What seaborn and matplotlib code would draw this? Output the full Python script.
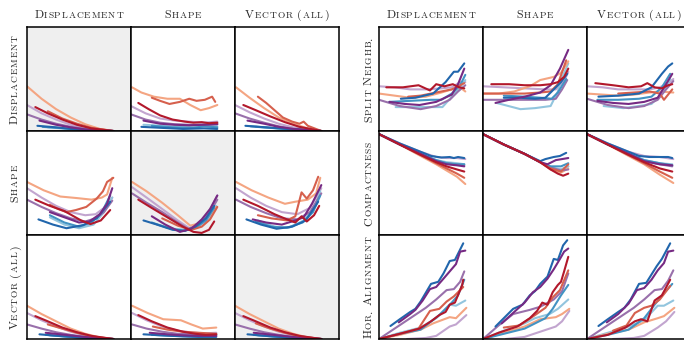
import numpy as np
import pandas as pd
import matplotlib
matplotlib.use("Agg")
import matplotlib.pyplot as plt
import seaborn as sns
from matplotlib import font_manager
from matplotlib.ft2font import FT2Font

# ---------------- labels ----------------
col_labels = ["Displacement", "Shape", "Vector (all)"]
left_row_labels = ["Displacement", "Shape", "Vector (all)"]
right_row_labels = ["Split Neighb.", "Compactness", "Hor. Alignment"]

# series order (draw order) and colours
series_order = ["lp", "lb", "sa", "mp", "mb", "rd", "db", "dp", "dr"]
series_colors = {
    "dr": "#b2182b", "rd": "#d6604d", "sa": "#f4a582",
    "lb": "#92c5de", "mb": "#4393c3", "db": "#2166ac",
    "dp": "#762a83", "mp": "#9970ab", "lp": "#c2a5cf",
}

# ---------------- data (x, y) per panel, in panel units ----------------
disp_disp = {
    "sa": [(0, .43), (.14, .31), (.28, .21), (.42, .13), (.56, .065), (.70, .02), (.83, 0)],
    "lp": [(0, .25), (.14, .17), (.28, .11), (.42, .06), (.56, .03), (.70, .01), (.83, 0)],
    "dr": [(.08, .23), (.2, .17), (.34, .11), (.48, .06), (.62, .025), (.83, 0)],
    "rd": [(.2, .19), (.34, .12), (.48, .07), (.62, .03), (.83, 0)],
    "mp": [(0, .16), (.14, .11), (.28, .07), (.42, .04), (.56, .02), (.83, 0)],
    "dp": [(.12, .10), (.28, .06), (.42, .035), (.56, .015), (.83, 0)],
    "db": [(.1, .05), (.28, .035), (.42, .02), (.56, .01), (.83, 0)],
    "mb": [(.15, .04), (.3, .03), (.5, .015), (.83, 0)],
    "lb": [(.2, .035), (.4, .02), (.83, 0)],
}
disp_shape = {
    "sa": [(.01, .42), (.1, .37), (.22, .33), (.35, .31), (.47, .31), (.57, .25), (.67, .20), (.75, .22), (.83, .25)],
    "rd": [(.2, .32), (.28, .29), (.37, .26), (.47, .28), (.56, .31), (.63, .29), (.71, .30), (.78, .33), (.81, .28)],
    "dr": [(.07, .27), (.17, .21), (.28, .15), (.4, .11), (.52, .09), (.6, .08), (.68, .085), (.75, .075), (.83, .08)],
    "lp": [(0, .24), (.14, .17), (.28, .12), (.42, .10), (.56, .09), (.7, .08), (.83, .09)],
    "mp": [(0, .16), (.14, .11), (.28, .08), (.42, .065), (.56, .06), (.7, .06), (.83, .07)],
    "dp": [(.12, .10), (.28, .07), (.42, .06), (.56, .055), (.7, .06), (.83, .065)],
    "lb": [(.12, .06), (.3, .05), (.5, .04), (.65, .05), (.83, .045)],
    "mb": [(.2, .05), (.4, .035), (.6, .03), (.7, .045), (.83, .035)],
    "db": [(.1, .04), (.3, .03), (.5, .02), (.7, .025), (.83, .02)],
}
disp_vec = {
    "sa": [(.01, .42), (.14, .32), (.28, .22), (.42, .13), (.56, .07), (.70, .025), (.83, 0)],
    "rd": [(.22, .33), (.3, .27), (.38, .20), (.46, .13), (.55, .09), (.62, .07), (.66, .09), (.70, .05), (.83, 0)],
    "dr": [(.08, .25), (.2, .20), (.34, .14), (.48, .085), (.62, .04), (.83, 0)],
    "lp": [(0, .25), (.14, .18), (.28, .12), (.42, .07), (.56, .035), (.83, 0)],
    "mp": [(0, .17), (.14, .12), (.28, .08), (.42, .045), (.56, .02), (.83, 0)],
    "dp": [(.12, .10), (.28, .07), (.42, .04), (.56, .02), (.83, 0)],
    "db": [(.1, .05), (.3, .035), (.5, .02), (.83, 0)],
    "mb": [(.15, .045), (.35, .03), (.55, .015), (.83, 0)],
    "lb": [(.2, .04), (.4, .025), (.83, 0)],
}
shape_disp = {
    "sa": [(0, .51), (.16, .43), (.32, .37), (.48, .355), (.62, .34), (.72, .36), (.77, .39), (.82, .55)],
    "lp": [(0, .45), (.14, .36), (.28, .28), (.42, .22), (.56, .19), (.66, .20), (.74, .26), (.82, .36)],
    "mp": [(0, .34), (.14, .27), (.28, .21), (.42, .16), (.56, .13), (.66, .16), (.74, .22), (.82, .33)],
    "dr": [(.08, .34), (.22, .28), (.36, .23), (.52, .14), (.61, .105), (.71, .14), (.80, .24)],
    "rd": [(.22, .29), (.3, .25), (.38, .22), (.47, .24), (.57, .27), (.67, .35), (.73, .42), (.77, .51), (.83, .55)],
    "dp": [(.22, .22), (.36, .17), (.5, .12), (.6, .13), (.7, .20), (.77, .30), (.82, .45)],
    "db": [(.11, .15), (.25, .10), (.38, .065), (.54, .095), (.67, .16), (.80, .32)],
    "mb": [(.22, .19), (.36, .12), (.5, .08), (.62, .12), (.72, .22), (.80, .38)],
    "lb": [(.22, .17), (.36, .10), (.5, .065), (.64, .10), (.74, .22), (.82, .36)],
}
shape_shape = {
    "sa": [(.01, .51), (.15, .42), (.3, .31), (.45, .19), (.57, .09), (.65, .11), (.74, .17), (.82, .27)],
    "lp": [(.01, .46), (.15, .36), (.3, .25), (.45, .14), (.57, .06), (.67, .12), (.76, .24), (.83, .38)],
    "mp": [(.01, .40), (.15, .31), (.3, .22), (.45, .12), (.55, .06), (.66, .10), (.76, .22), (.83, .34)],
    "dr": [(.07, .34), (.2, .26), (.35, .17), (.5, .08), (.6, .03), (.68, .02), (.75, .05), (.8, .13)],
    "dp": [(.2, .18), (.33, .10), (.47, .03), (.58, .06), (.68, .15), (.76, .25), (.83, .38)],
    "db": [(.12, .14), (.25, .10), (.4, .05), (.52, .04), (.62, .08), (.72, .16), (.8, .28)],
    "mb": [(.2, .12), (.35, .07), (.5, .04), (.62, .07), (.72, .14), (.8, .26)],
    "lb": [(.25, .10), (.4, .06), (.55, .05), (.66, .09), (.76, .17), (.82, .28)],
    "rd": [(.3, .16), (.45, .09), (.58, .05), (.68, .08), (.76, .15), (.83, .27)],
}
shape_vec = {
    "sa": [(.01, .51), (.16, .43), (.32, .36), (.48, .30), (.58, .32), (.70, .34), (.78, .40), (.82, .55)],
    "rd": [(.22, .19), (.35, .16), (.5, .14), (.58, .18), (.64, .41), (.69, .35), (.75, .43), (.8, .56)],
    "dr": [(.08, .34), (.22, .28), (.38, .20), (.5, .15), (.58, .12), (.64, .18), (.69, .13), (.76, .19), (.81, .28)],
    "lp": [(.01, .45), (.15, .36), (.3, .28), (.45, .22), (.6, .20), (.72, .26), (.83, .45)],
    "mp": [(.01, .34), (.15, .27), (.3, .21), (.45, .16), (.6, .15), (.72, .22), (.83, .40)],
    "dp": [(.17, .15), (.3, .12), (.45, .10), (.58, .14), (.66, .17), (.74, .30), (.83, .48)],
    "db": [(.11, .15), (.25, .10), (.4, .06), (.55, .08), (.68, .14), (.8, .32)],
    "mb": [(.2, .13), (.35, .08), (.5, .07), (.65, .12), (.75, .22), (.82, .38)],
    "lb": [(.22, .14), (.38, .08), (.52, .07), (.66, .14), (.76, .26), (.82, .42)],
}
vec_disp = {
    "sa": [(0, .32), (.14, .24), (.28, .17), (.42, .10), (.56, .05), (.70, .015), (.83, 0)],
    "lp": [(0, .25), (.14, .18), (.28, .12), (.42, .07), (.56, .035), (.70, .01), (.83, 0)],
    "dr": [(.08, .22), (.2, .17), (.34, .11), (.48, .065), (.62, .03), (.83, 0)],
    "rd": [(.2, .14), (.34, .10), (.48, .06), (.62, .025), (.83, 0)],
    "mp": [(0, .14), (.14, .10), (.28, .065), (.42, .04), (.56, .02), (.83, 0)],
    "dp": [(.18, .06), (.32, .045), (.46, .03), (.6, .015), (.83, 0)],
    "db": [(.12, .045), (.3, .03), (.5, .015), (.83, 0)],
    "mb": [(.18, .04), (.36, .025), (.56, .01), (.83, 0)],
    "lb": [(.22, .035), (.42, .02), (.83, 0)],
}
vec_shape = {
    "sa": [(.01, .32), (.16, .25), (.31, .19), (.48, .18), (.58, .14), (.69, .10), (.82, .11)],
    "dr": [(.07, .23), (.2, .17), (.35, .11), (.5, .07), (.62, .05), (.72, .04), (.82, .045)],
    "rd": [(.21, .12), (.35, .09), (.5, .07), (.65, .06), (.82, .05)],
    "lp": [(.01, .25), (.15, .18), (.3, .12), (.45, .08), (.6, .06), (.72, .055), (.82, .06)],
    "mp": [(.01, .14), (.15, .10), (.3, .07), (.45, .05), (.6, .045), (.82, .045)],
    "dp": [(.18, .06), (.35, .045), (.5, .035), (.65, .03), (.82, .03)],
    "db": [(.12, .045), (.3, .035), (.5, .025), (.65, .02), (.82, .02)],
    "mb": [(.2, .04), (.4, .03), (.6, .025), (.82, .03)],
    "lb": [(.25, .05), (.45, .04), (.65, .035), (.82, .04)],
}
vec_vec = {
    "sa": [(0, .32), (.14, .24), (.28, .17), (.42, .10), (.56, .05), (.70, .015), (.83, 0)],
    "lp": [(0, .25), (.14, .18), (.28, .12), (.42, .07), (.56, .035), (.83, 0)],
    "dr": [(.08, .22), (.2, .17), (.34, .11), (.48, .065), (.62, .03), (.83, 0)],
    "rd": [(.2, .15), (.34, .10), (.48, .06), (.62, .025), (.83, 0)],
    "mp": [(0, .14), (.14, .10), (.28, .065), (.42, .04), (.56, .02), (.83, 0)],
    "dp": [(.18, .06), (.32, .045), (.46, .03), (.6, .015), (.83, 0)],
    "db": [(.12, .045), (.3, .03), (.5, .015), (.83, 0)],
    "mb": [(.18, .04), (.36, .025), (.56, .01), (.83, 0)],
    "lb": [(.22, .035), (.42, .02), (.83, 0)],
}
split_disp = {
    "dr": [(.07, .42), (.23, .42), (.38, .44), (.49, .39), (.55, .45), (.63, .43), (.71, .45), (.77, .42), (.82, .41)],
    "lp": [(0, .43), (.15, .42), (.3, .40), (.45, .40), (.6, .41), (.7, .42), (.78, .47), (.83, .47)],
    "sa": [(0, .36), (.15, .34), (.3, .32), (.45, .33), (.6, .37), (.7, .40), (.78, .42), (.83, .38)],
    "rd": [(.28, .33), (.4, .34), (.5, .36), (.6, .38), (.7, .40), (.76, .43), (.82, .46)],
    "db": [(.21, .31), (.35, .32), (.52, .36), (.64, .47), (.72, .57), (.76, .57), (.82, .65)],
    "dp": [(.1, .28), (.25, .26), (.39, .25), (.55, .28), (.7, .35), (.76, .45), (.82, .60)],
    "mp": [(0, .30), (.2, .24), (.4, .21), (.55, .24), (.68, .30), (.76, .38), (.83, .44)],
    "lb": [(.16, .23), (.35, .23), (.5, .23), (.61, .23), (.7, .33), (.78, .42), (.83, .49)],
    "mb": [(.1, .28), (.3, .29), (.5, .30), (.6, .30), (.7, .36), (.78, .44), (.83, .54)],
}
split_shape = {
    "dp": [(.12, .27), (.25, .30), (.4, .33), (.55, .37), (.65, .44), (.74, .60), (.82, .78)],
    "dr": [(.08, .45), (.25, .45), (.4, .44), (.55, .44), (.65, .45), (.72, .47), (.78, .52), (.82, .60)],
    "sa": [(0, .36), (.15, .36), (.3, .38), (.45, .43), (.55, .49), (.68, .52), (.75, .56), (.82, .67)],
    "rd": [(0, .36), (.2, .36), (.4, .36), (.55, .37), (.65, .38), (.72, .45), (.8, .68)],
    "lb": [(.13, .27), (.36, .21), (.5, .22), (.65, .24), (.72, .38), (.75, .49), (.82, .65)],
    "lp": [(0, .43), (.2, .42), (.4, .41), (.6, .40), (.7, .40), (.78, .48), (.82, .57)],
    "mp": [(0, .30), (.2, .30), (.4, .30), (.6, .30), (.7, .31), (.76, .40), (.81, .49)],
    "db": [(.2, .32), (.35, .32), (.5, .31), (.6, .32), (.68, .40), (.75, .47), (.81, .55)],
    "mb": [(.2, .34), (.4, .33), (.55, .32), (.66, .31), (.72, .37), (.8, .50)],
}
split_vec = {
    "dr": [(.08, .46), (.25, .44), (.4, .42), (.52, .43), (.58, .46), (.65, .42), (.72, .41), (.78, .44), (.82, .45)],
    "lp": [(0, .43), (.15, .42), (.3, .40), (.45, .40), (.6, .40), (.7, .42), (.78, .46), (.83, .50)],
    "sa": [(0, .36), (.15, .35), (.3, .34), (.45, .35), (.6, .37), (.7, .38), (.83, .37)],
    "rd": [(.3, .36), (.45, .37), (.6, .38), (.7, .36), (.74, .30), (.78, .35), (.82, .40)],
    "db": [(.11, .33), (.3, .34), (.5, .36), (.62, .42), (.72, .55), (.78, .62), (.82, .65)],
    "dp": [(.1, .29), (.25, .27), (.4, .26), (.55, .28), (.68, .32), (.76, .45), (.82, .55)],
    "mp": [(0, .31), (.2, .25), (.4, .22), (.55, .24), (.68, .30), (.76, .40), (.83, .48)],
    "lb": [(.16, .24), (.35, .22), (.5, .24), (.62, .26), (.72, .36), (.8, .50)],
    "mb": [(.1, .30), (.3, .30), (.5, .31), (.62, .33), (.72, .42), (.8, .55)],
}
comp_disp = {
    "db": [(0, .97), (.2, .88), (.4, .80), (.5, .76), (.6, .745), (.68, .75), (.72, .74), (.76, .75), (.82, .74)],
    "lp": [(0, .97), (.2, .88), (.4, .80), (.55, .75), (.65, .74), (.75, .74), (.83, .73)],
    "lb": [(0, .97), (.2, .87), (.4, .78), (.55, .72), (.65, .70), (.75, .69), (.82, .68)],
    "mb": [(0, .97), (.2, .87), (.4, .78), (.55, .72), (.65, .69), (.75, .68), (.82, .68)],
    "dp": [(0, .97), (.2, .87), (.4, .78), (.55, .71), (.65, .68), (.75, .67), (.82, .66)],
    "mp": [(0, .97), (.2, .87), (.4, .78), (.55, .71), (.65, .69), (.82, .67)],
    "dr": [(0, .97), (.2, .87), (.4, .77), (.55, .70), (.65, .66), (.75, .63), (.82, .61)],
    "rd": [(0, .97), (.2, .87), (.4, .77), (.55, .69), (.65, .64), (.75, .59), (.82, .55)],
    "sa": [(0, .97), (.2, .87), (.4, .76), (.55, .68), (.65, .62), (.75, .56), (.83, .49)],
}
comp_shape = {
    "db": [(0, .97), (.2, .87), (.4, .78), (.55, .71), (.6, .73), (.68, .75), (.74, .76), (.8, .79)],
    "dp": [(0, .97), (.2, .87), (.4, .78), (.55, .70), (.62, .68), (.7, .72), (.76, .73), (.82, .74)],
    "lb": [(0, .97), (.2, .87), (.4, .78), (.55, .70), (.65, .65), (.75, .63), (.82, .66)],
    "mb": [(0, .97), (.2, .87), (.4, .78), (.55, .70), (.65, .66), (.75, .66), (.82, .69)],
    "lp": [(0, .97), (.2, .87), (.4, .78), (.55, .70), (.65, .64), (.75, .63), (.82, .66)],
    "mp": [(0, .97), (.2, .87), (.4, .78), (.55, .70), (.65, .65), (.75, .62), (.82, .63)],
    "rd": [(0, .97), (.2, .87), (.4, .78), (.55, .70), (.65, .64), (.75, .61), (.82, .68)],
    "sa": [(0, .97), (.2, .87), (.4, .78), (.55, .70), (.65, .63), (.75, .60), (.82, .64)],
    "dr": [(0, .97), (.2, .87), (.4, .78), (.55, .70), (.65, .63), (.72, .59), (.77, .57), (.82, .59)],
}
comp_vec = {
    "db": [(0, .97), (.2, .88), (.4, .80), (.5, .76), (.6, .75), (.7, .75), (.78, .75), (.82, .74)],
    "lp": [(0, .97), (.2, .88), (.4, .80), (.55, .76), (.7, .75), (.83, .73)],
    "lb": [(0, .97), (.2, .87), (.4, .78), (.55, .72), (.7, .69), (.82, .68)],
    "mb": [(0, .97), (.2, .87), (.4, .78), (.55, .72), (.7, .69), (.82, .67)],
    "dp": [(0, .97), (.2, .87), (.4, .78), (.55, .71), (.7, .68), (.82, .67)],
    "mp": [(0, .97), (.2, .87), (.4, .78), (.55, .71), (.7, .68), (.82, .66)],
    "dr": [(0, .97), (.2, .87), (.4, .77), (.55, .70), (.7, .64), (.82, .61)],
    "rd": [(0, .97), (.2, .87), (.4, .77), (.55, .69), (.7, .61), (.82, .55)],
    "sa": [(0, .97), (.2, .87), (.4, .76), (.55, .68), (.7, .58), (.83, .50)],
}
hor_disp = {
    "db": [(.11, .125), (.2, .19), (.3, .26), (.35, .29), (.4, .36), (.5, .53), (.57, .55), (.62, .63), (.68, .75), (.73, .76), (.81, .92)],
    "dp": [(.19, .16), (.3, .24), (.35, .28), (.42, .37), (.49, .48), (.55, .50), (.62, .58), (.68, .65), (.74, .72), (.78, .84), (.83, .85)],
    "mp": [(0, 0), (.15, .10), (.3, .20), (.45, .30), (.55, .38), (.65, .47), (.72, .48), (.78, .55), (.82, .65)],
    "lb": [(0, 0), (.2, .06), (.4, .11), (.55, .20), (.68, .33), (.74, .32), (.83, .37)],
    "mb": [(0, 0), (.2, .05), (.4, .09), (.58, .23), (.7, .35), (.76, .42), (.82, .57)],
    "rd": [(0, 0), (.2, .05), (.38, .10), (.49, .27), (.58, .29), (.65, .36), (.72, .41), (.81, .50)],
    "dr": [(0, 0), (.2, .05), (.39, .10), (.5, .17), (.58, .23), (.64, .26), (.68, .33), (.73, .35), (.8, .52), (.81, .57)],
    "sa": [(0, 0), (.2, .04), (.4, .09), (.52, .15), (.68, .21), (.74, .20), (.84, .30)],
    "lp": [(.27, 0), (.45, .01), (.55, .03), (.68, .12), (.74, .14), (.84, .23)],
}
hor_shape = {
    "db": [(.12, .12), (.2, .2), (.29, .29), (.38, .33), (.45, .42), (.5, .46), (.55, .53), (.62, .6), (.68, .77), (.72, .76), (.77, .9), (.81, .95)],
    "dp": [(.18, .15), (.3, .26), (.4, .35), (.48, .45), (.55, .50), (.62, .58), (.68, .67), (.74, .77), (.78, .84), (.82, .87)],
    "dr": [(0, 0), (.15, .06), (.33, .12), (.45, .2), (.52, .27), (.57, .35), (.62, .33), (.67, .45), (.72, .52), (.75, .55), (.78, .65), (.82, .79)],
    "rd": [(.2, .11), (.35, .13), (.5, .23), (.6, .30), (.67, .40), (.74, .47), (.82, .66)],
    "mp": [(0, 0), (.15, .13), (.29, .24), (.45, .28), (.55, .31), (.68, .38), (.76, .46), (.82, .63)],
    "mb": [(0, 0), (.2, .05), (.4, .10), (.6, .20), (.67, .29), (.75, .42), (.82, .52)],
    "lb": [(0, 0), (.2, .08), (.4, .15), (.5, .2), (.64, .24), (.72, .29), (.82, .38)],
    "sa": [(0, 0), (.2, .06), (.4, .12), (.55, .19), (.7, .21), (.76, .24), (.83, .29)],
    "lp": [(.22, 0), (.4, .02), (.55, .07), (.7, .12), (.76, .17), (.83, .27)],
}
hor_vec = {
    "db": [(.11, .125), (.2, .19), (.3, .26), (.36, .30), (.42, .38), (.5, .53), (.57, .54), (.62, .62), (.67, .70), (.72, .77), (.80, .92)],
    "dp": [(.19, .16), (.3, .24), (.4, .34), (.48, .47), (.55, .49), (.62, .57), (.68, .66), (.74, .73), (.78, .84), (.83, .85)],
    "mp": [(0, 0), (.15, .1), (.3, .2), (.45, .30), (.55, .38), (.65, .47), (.72, .48), (.78, .56), (.83, .66)],
    "dr": [(0, 0), (.2, .04), (.37, .11), (.46, .17), (.52, .19), (.58, .17), (.65, .37), (.72, .42), (.8, .57)],
    "rd": [(.25, .08), (.38, .13), (.46, .25), (.55, .30), (.62, .32), (.7, .38), (.8, .51)],
    "mb": [(0, 0), (.2, .04), (.4, .09), (.55, .2), (.65, .33), (.74, .44), (.82, .53)],
    "lb": [(0, 0), (.2, .06), (.4, .12), (.55, .18), (.68, .32), (.74, .32), (.83, .37)],
    "sa": [(0, 0), (.2, .05), (.4, .09), (.55, .16), (.68, .2), (.74, .22), (.84, .3)],
    "lp": [(.25, 0), (.45, .01), (.55, .03), (.68, .11), (.76, .17), (.84, .26)],
}

left_panels = [[disp_disp, disp_shape, disp_vec],
               [shape_disp, shape_shape, shape_vec],
               [vec_disp, vec_shape, vec_vec]]
right_panels = [[split_disp, split_shape, split_vec],
                [comp_disp, comp_shape, comp_vec],
                [hor_disp, hor_shape, hor_vec]]

# ---------------- figure ----------------
sns.set_theme(style="white")
plt.rcParams["font.family"] = ["cmr10", "DejaVu Serif"]
plt.rcParams["axes.unicode_minus"] = False

W, H = 684, 343
PANEL = 104
fig = plt.figure(figsize=(W / 100, H / 100), dpi=100)


def to_frame(d):
    rows = []
    for s, pts in d.items():
        for x, y in pts:
            rows.append({"series": s, "x": x, "y": y})
    return pd.DataFrame(rows)


def draw_panel(x0, y0, d, grey):
    ax = fig.add_axes([x0 / W, 1 - (y0 + PANEL) / H, PANEL / W, PANEL / H])
    df = to_frame(d)
    order = [s for s in series_order if s in d]
    sns.lineplot(data=df, x="x", y="y", hue="series", hue_order=order,
                 palette=series_colors, sort=False, estimator=None,
                 legend=False, linewidth=1.5, ax=ax)
    ax.set_xlim(0, 1)
    ax.set_ylim(0, 1)
    ax.set_xticks([])
    ax.set_yticks([])
    ax.set_xlabel("")
    ax.set_ylabel("")
    ax.set_facecolor("#efefef" if grey else "white")
    for sp in ax.spines.values():
        sp.set_visible(True)
        sp.set_color("black")
        sp.set_linewidth(1.1)
    return ax


LX, RX, TOP = 27, 379, 27
for r in range(3):
    for c in range(3):
        draw_panel(LX + PANEL * c, TOP + PANEL * r, left_panels[r][c], r == c)
        draw_panel(RX + PANEL * c, TOP + PANEL * r, right_panels[r][c], False)

# ---------------- small-caps labels ----------------
font_path = font_manager.findfont(font_manager.FontProperties(family="cmr10"))
ft = FT2Font(font_path)
BIG, SMALL, TRACK, SPACE = 8.6, 6.8, 0.9, 4.0


def advance(ch, size):
    ft.set_size(size, 100)
    g = ft.load_char(ord(ch))
    return g.linearHoriAdvance / 65536


def smallcaps(s, center, base, vertical=False):
    pieces = []
    for ch in s:
        if ch == " ":
            pieces.append((None, BIG, SPACE))
        elif ch.islower():
            pieces.append((ch.upper(), SMALL, advance(ch.upper(), SMALL) + TRACK))
        else:
            pieces.append((ch, BIG, advance(ch, BIG) + 0.5))
    total = sum(p[2] for p in pieces)
    pos = center - total / 2
    for ch, size, w in pieces:
        if ch is not None:
            if not vertical:
                fig.text(pos / W, (H - base) / H, ch, fontsize=size, family="cmr10",
                         ha="left", va="baseline", rotation_mode="anchor")
            else:
                yimg = 2 * center - pos
                fig.text(base / W, (H - yimg) / H, ch, fontsize=size, family="cmr10",
                         ha="left", va="baseline", rotation=90, rotation_mode="anchor")
        pos += w


for c, lab in enumerate(col_labels):
    smallcaps(lab, LX + PANEL * c + PANEL / 2, 18)
    smallcaps(lab, RX + PANEL * c + PANEL / 2, 18)
for r, lab in enumerate(left_row_labels):
    smallcaps(lab, TOP + PANEL * r + PANEL / 2, 18, vertical=True)
for r, lab in enumerate(right_row_labels):
    smallcaps(lab, TOP + PANEL * r + PANEL / 2, 372, vertical=True)

fig.savefig("out.png", dpi=100)
